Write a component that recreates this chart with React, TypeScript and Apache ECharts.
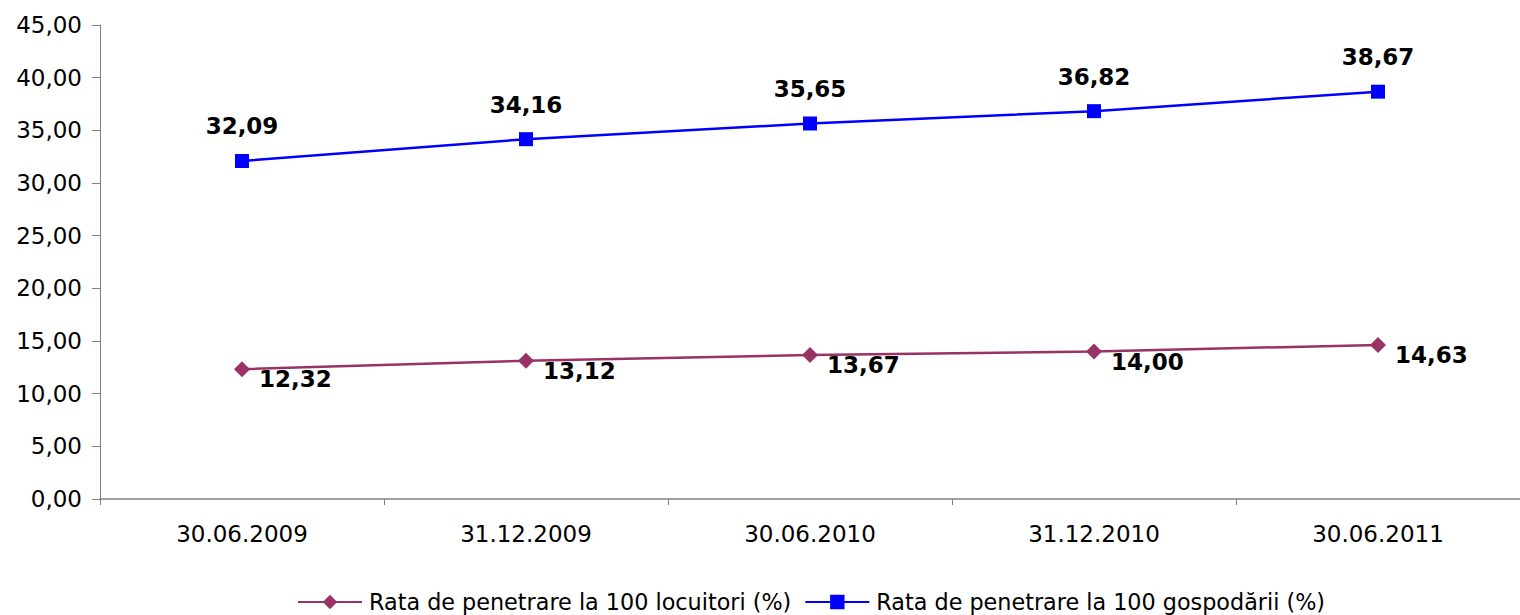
import React, { useEffect, useRef } from "react";
import * as echarts from "echarts";

const categories = ["30.06.2009", "31.12.2009", "30.06.2010", "31.12.2010", "30.06.2011"];
const locuitori = [12.32, 13.12, 13.67, 14.0, 14.63];
const gospodarii = [32.09, 34.16, 35.65, 36.82, 38.67];
const seriesNames = ["Rata de penetrare la 100 locuitori (%)", "Rata de penetrare la 100 gospodării (%)"];

const fmt = (v: number) => v.toFixed(2).replace(".", ",");
const FONT = "'DejaVu Sans', Verdana, sans-serif";

export default function App() {
  const ref = useRef<HTMLDivElement>(null);
  useEffect(() => {
    if (!ref.current) return;
    const chart = echarts.init(ref.current, undefined, { renderer: "svg" });
    chart.setOption({
      animation: false,
      backgroundColor: "#ffffff",
      textStyle: { fontFamily: FONT },
      grid: { left: 100, right: -1, top: 25, bottom: 116, containLabel: false },
      legend: {
        left: 292,
        top: 586,
        itemWidth: 64,
        itemHeight: 18,
        itemGap: 13,
        textStyle: { fontFamily: FONT, fontSize: 22.3, color: "#000", padding: [0, 0, 0, 2] },
        data: seriesNames,
      },
      xAxis: {
        type: "category",
        data: categories,
        boundaryGap: true,
        axisLine: { lineStyle: { color: "#808080", width: 1.5 } },
        axisTick: { show: true, length: 6, lineStyle: { color: "#808080" } },
        axisLabel: { margin: 23, fontSize: 23, color: "#000", fontFamily: FONT },
        splitLine: { show: false },
      },
      yAxis: {
        type: "value",
        min: 0,
        max: 45,
        interval: 5,
        axisLine: { show: true, lineStyle: { color: "#808080" } },
        axisTick: { show: true, length: 8, lineStyle: { color: "#808080" } },
        axisLabel: { margin: 18, fontSize: 23, color: "#000", fontFamily: FONT, formatter: (v: number) => fmt(v) },
        splitLine: { show: false },
      },
      series: [
        {
          name: seriesNames[0],
          type: "line",
          data: locuitori,
          symbol: "diamond",
          symbolSize: 16,
          itemStyle: { color: "#993366" },
          lineStyle: { color: "#993366", width: 2.5 },
          label: {
            show: true,
            position: "right",
            distance: 9,
            offset: [0, 10],
            fontSize: 23,
            fontWeight: "bold",
            color: "#000",
            fontFamily: FONT,
            formatter: (p: any) => fmt(p.value),
          },
        },
        {
          name: seriesNames[1],
          type: "line",
          data: gospodarii,
          symbol: "rect",
          symbolSize: 14,
          itemStyle: { color: "#0000FF" },
          lineStyle: { color: "#0000FF", width: 2.5 },
          label: {
            show: true,
            position: "top",
            distance: 16,
            fontSize: 23,
            fontWeight: "bold",
            color: "#000",
            fontFamily: FONT,
            formatter: (p: any) => fmt(p.value),
          },
        },
      ],
    });
    return () => chart.dispose();
  }, []);
  return <div ref={ref} style={{ position: "absolute", left: 0, top: 0, width: 1520, height: 615 }} />;
}
